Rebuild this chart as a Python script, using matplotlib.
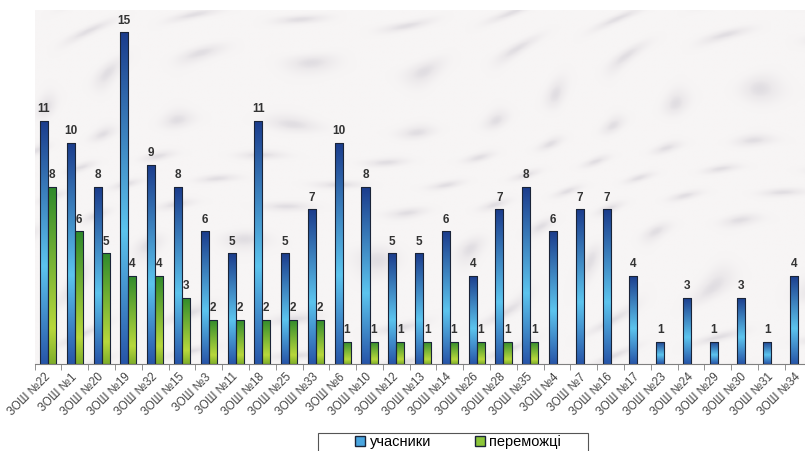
import numpy as np
import matplotlib.pyplot as plt
import matplotlib.transforms as mtransforms
from matplotlib.colors import LinearSegmentedColormap
from matplotlib.patches import Patch, Rectangle

plt.rcParams['font.family'] = ['Liberation Sans', 'DejaVu Sans']

schools = ['ЗОШ №22', 'ЗОШ №1', 'ЗОШ №20', 'ЗОШ №19', 'ЗОШ №32', 'ЗОШ №15',
           'ЗОШ №3', 'ЗОШ №11', 'ЗОШ №18', 'ЗОШ №25', 'ЗОШ №33', 'ЗОШ №6',
           'ЗОШ №10', 'ЗОШ №12', 'ЗОШ №13', 'ЗОШ №14', 'ЗОШ №26', 'ЗОШ №28',
           'ЗОШ №35', 'ЗОШ №4', 'ЗОШ №7', 'ЗОШ №16', 'ЗОШ №17', 'ЗОШ №23',
           'ЗОШ №24', 'ЗОШ №29', 'ЗОШ №30', 'ЗОШ №31', 'ЗОШ №34']
participants = [11, 10, 8, 15, 9, 8, 6, 5, 11, 5, 7, 10, 8, 5, 5, 6, 4, 7,
                8, 6, 7, 7, 4, 1, 3, 1, 3, 1, 4]
winners = [8, 6, 5, 4, 4, 3, 2, 2, 2, 2, 2, 1, 1, 1, 1, 1, 1, 1,
           1, 0, 0, 0, 0, 0, 0, 0, 0, 0, 0]

blue_cmap = LinearSegmentedColormap.from_list(
    'blue', [(0, '#1b3c8c'), (0.6, '#5cc4ee'), (1, '#2755a8')])
green_cmap = LinearSegmentedColormap.from_list(
    'green', [(0, '#2f8a2c'), (0.8, '#b8d83c'), (1, '#7fae2a')])
marble_cmap = LinearSegmentedColormap.from_list(
    'marble', ['#f7f5f5', '#ece9eb', '#d2cfd6'])

fig = plt.figure(figsize=(8.05, 4.51), dpi=100)
ax = fig.add_axes([34.6 / 805, 1 - 364 / 451, 777 / 805, 354 / 451])

x = np.arange(len(schools))
w = 0.30
grad = np.linspace(0, 1, 256).reshape(-1, 1)

# light marble-like backdrop (soft diagonal veins)
yy, xx = np.mgrid[0:1:300j, 0:1:700j]
veins = (np.sin(40 * (xx * 0.9 + yy) + 3 * np.sin(9 * xx) + 2 * np.sin(13 * yy)) *
         np.sin(23 * (xx - 0.6 * yy) + 2 * np.sin(7 * yy)))
veins = np.clip(veins, 0, 1) ** 3
ax.imshow(veins, cmap=marble_cmap, aspect='auto', vmin=0, vmax=1.4,
          extent=[-0.5, len(schools) - 0.5, 0, 16], zorder=0)


def gradient_bars(xs, vals, cmap, offset):
    bars = ax.bar(xs + offset, vals, width=w, facecolor='none',
                  edgecolor='#1a2438', linewidth=0.8, zorder=3)
    for b, v in zip(bars, vals):
        if v <= 0:
            b.set_visible(False)
            continue
        x0, y0 = b.get_x(), b.get_y()
        im = ax.imshow(grad, cmap=cmap, aspect='auto', origin='upper',
                       extent=[x0, x0 + b.get_width(), y0, y0 + b.get_height()],
                       zorder=2)
        im.set_clip_path(b)
        ax.text(x0 + b.get_width() / 2, v + 0.25, str(v), ha='center',
                va='bottom', fontsize=8.5, fontweight='bold', color='#333333',
                zorder=4)
    return bars


gradient_bars(x, participants, blue_cmap, -w / 2)
gradient_bars(x, winners, green_cmap, w / 2)

ax.set_xlim(-0.5, len(schools) - 0.5)
ax.set_ylim(0, 16)

for s in ['top', 'right', 'left']:
    ax.spines[s].set_visible(False)
ax.spines['bottom'].set_color('#808080')
ax.set_yticks([])

ax.set_xticks(x)
ax.set_xticklabels(schools, rotation=45, ha='right', rotation_mode='anchor',
                   fontsize=8.3, color='#444444')
ax.tick_params(axis='x', which='major', length=0, pad=5)
shift = mtransforms.ScaledTranslation(-4 / 100, 0, fig.dpi_scale_trans)
for lab in ax.get_xticklabels():
    lab.set_transform(lab.get_transform() + shift)
ax.set_xticks(np.arange(-0.5, len(schools), 1), minor=True)
ax.tick_params(axis='x', which='minor', length=4, color='#808080')

# legend box (bottom edge runs off the figure like in the source)
fig.add_artist(Rectangle((318 / 805, -0.05), 270 / 805, 0.05 + 1 - 433 / 451,
                         transform=fig.transFigure, facecolor='white',
                         edgecolor='#555555', linewidth=0.8))
handles = [Patch(facecolor='#4aa6e0', edgecolor='#1a2438', label='учасники'),
           Patch(facecolor='#8cc63a', edgecolor='#1a2438', label='переможці')]
fig.legend(handles=handles, loc='center', ncol=2,
           bbox_to_anchor=(458 / 805, 1 - 442 / 451), fontsize=10.5,
           frameon=False, handlelength=0.7, handleheight=0.7,
           handletextpad=0.3, columnspacing=3.0, borderpad=0, borderaxespad=0)

fig.savefig('out.png', dpi=100)
